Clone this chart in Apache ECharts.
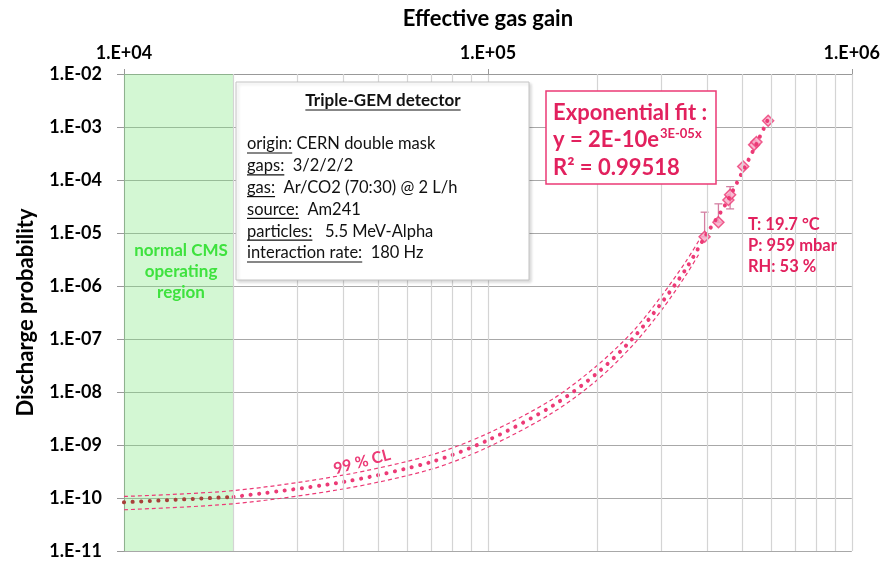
<!DOCTYPE html>
<html>
<head>
<meta charset="utf-8">
<script src="https://cdn.jsdelivr.net/npm/echarts@6/dist/echarts.min.js"></script>
<style>
html, body { margin: 0; padding: 0; background: #fff; }
#graph { width: 883px; height: 564px; }
</style>
</head>
<body>
<div id="graph"></div>
<script>
// gain at the minor vertical grid lines
var minorGain = [2e4, 3e4, 4e4, 5e4, 6e4, 7e4, 8e4, 9e4,
                 2e5, 3e5, 4e5, 5e5, 6e5, 7e5, 8e5, 9e5];
var cmsRegion = [1e4, 2e4];

// measured points
var pointGain = [3.94e5, 4.30e5, 4.58e5, 4.63e5, 5.03e5, 5.39e5, 5.47e5, 5.89e5];
var pointProb = [8.5e-6, 1.6e-5, 4.2e-5, 5.25e-5, 1.8e-4, 4.6e-4, 5.2e-4, 1.31e-3];

// error bars
var errGain = [3.94e5, 4.30e5, 4.63e5];
var errLow  = [8.5e-6, 1.6e-5, 2.85e-5];
var errHigh = [2.47e-5, 3.55e-5, 7.5e-5];

// exponential fit
var fitGain = [1e4, 2e4, 4e4, 7e4, 1e5, 1.5e5, 2e5, 2.5e5, 3e5, 3.5e5, 4e5, 4.5e5, 5e5, 5.5e5, 5.9e5];
var fitProb = [8.3e-11, 1.05e-10, 2.0e-10, 4.8e-10, 1.23e-9, 5.4e-9, 2.3e-8, 1.02e-7, 4.8e-7,
               2.1e-6, 9.8e-6, 3.5e-5, 1.4e-4, 5.2e-4, 1.45e-3];

// 99 % confidence band
var clGain  = [1e4, 2e4, 4e4, 7e4, 1e5, 1.5e5, 2e5, 2.5e5, 3e5, 3.5e5, 3.8e5];
var clUpper = [1.07e-10, 1.38e-10, 2.7e-10, 6.5e-10, 1.66e-9, 7.2e-9, 3.2e-8, 1.38e-7, 6.5e-7, 2.9e-6, 7.2e-6];
var clLower = [6.0e-11, 7.8e-11, 1.48e-10, 3.5e-10, 9.1e-10, 4.0e-9, 1.7e-8, 7.6e-8, 3.5e-7, 1.6e-6, 4.0e-6];

var infoLabels = ['origin:', 'gaps:', 'gas:', 'source:', 'particles:', 'interaction rate:'];
var infoValues = [' CERN double mask', '  3/2/2/2', '  Ar/CO2 (70:30) @ 2 L/h', '  Am241', '   5.5 MeV-Alpha', '  180 Hz'];
var condLines = ['T: 19.7 °C', 'P: 959 mbar', 'RH: 53 %'];

function zip(a, b) { return a.map(function (v, i) { return [v, b[i]]; }); }

var pink = '#ec3a76';
var red = '#e2215e';
var FONT = 'Lato, "Open Sans", sans-serif';

var measure = document.createElement('canvas').getContext('2d');
function textWidth(str, font) { measure.font = font; return measure.measureText(str).width; }

var chart = echarts.init(document.getElementById('graph'), null, { renderer: 'canvas' });

// info box
var headFont = 'bold 17px ' + FONT;
var headW = textWidth('Triple-GEM detector', headFont);
var graphics = [
    { type: 'rect', shape: { x: 236, y: 82, width: 293, height: 198 }, z: 50,
      style: { fill: '#fff', stroke: '#c4c4c4', lineWidth: 1, shadowColor: 'rgba(0,0,0,0.15)', shadowBlur: 3, shadowOffsetX: 2, shadowOffsetY: 2 } },
    { type: 'text', x: 383, y: 101, z: 51,
      style: { text: 'Triple-GEM detector', font: headFont, fill: '#111', align: 'center', verticalAlign: 'middle' } },
    { type: 'line', z: 51, shape: { x1: 383 - headW / 2, y1: 110, x2: 383 + headW / 2, y2: 110 },
      style: { stroke: '#111', lineWidth: 1.2 } }
];
var infoFont = '16.5px ' + FONT;
infoLabels.forEach(function (lab, i) {
    var y = 144 + i * 21.8;
    graphics.push({ type: 'text', x: 247, y: y, z: 51,
        style: { text: lab + infoValues[i], font: infoFont, fill: '#111', verticalAlign: 'middle' } });
    graphics.push({ type: 'line', z: 51, shape: { x1: 247, y1: y + 9, x2: 247 + textWidth(lab, infoFont), y2: y + 9 },
        style: { stroke: '#111', lineWidth: 1.2 } });
});
// fit box
var fitFont = 'bold 22px ' + FONT;
graphics.push({ type: 'rect', shape: { x: 546, y: 91, width: 170, height: 93 }, z: 50,
    style: { fill: '#fff', stroke: pink, lineWidth: 1.5 } });
graphics.push({ type: 'text', x: 553, y: 113, z: 51,
    style: { text: 'Exponential fit :', font: fitFont, fill: red, verticalAlign: 'middle' } });
graphics.push({ type: 'text', x: 553, y: 140, z: 51,
    style: { text: 'y = 2E-10e', font: fitFont, fill: red, verticalAlign: 'middle' } });
graphics.push({ type: 'text', x: 554 + textWidth('y = 2E-10e', fitFont), y: 134, z: 51,
    style: { text: '3E-05x', font: 'bold 13px ' + FONT, fill: red, verticalAlign: 'middle' } });
graphics.push({ type: 'text', x: 553, y: 168, z: 51,
    style: { text: 'R² = 0.99518', font: fitFont, fill: red, verticalAlign: 'middle' } });
// conditions
condLines.forEach(function (t, i) {
    graphics.push({ type: 'text', x: 748, y: 225 + i * 21, z: 51,
        style: { text: t, font: 'bold 16.5px ' + FONT, fill: red, verticalAlign: 'middle' } });
});
// band label
graphics.push({ type: 'text', x: 362, y: 462, rotation: 0.26, z: 51,
    style: { text: '99 % CL', font: 'bold 16px ' + FONT, fill: pink, align: 'center', verticalAlign: 'middle' } });
// CMS region label
graphics.push({ type: 'text', x: 181, y: 272, z: 51,
    style: { text: 'normal CMS\noperating\nregion', font: 'bold 17px ' + FONT, fill: '#3ee23e', align: 'center', verticalAlign: 'middle', lineHeight: 21 } });

chart.setOption({
    animation: false,
    grid: { left: 124, right: 31, top: 74, bottom: 13 },
    xAxis: {
        type: 'log', logBase: 10, min: 1e4, max: 1e6, splitNumber: 2, position: 'top',
        name: 'Effective gas gain', nameLocation: 'middle', nameGap: 44,
        nameTextStyle: { fontFamily: 'Lato', fontWeight: 'bold', fontSize: 22, color: '#000' },
        axisLine: { lineStyle: { color: '#999' } },
        axisTick: { length: 5, lineStyle: { color: '#999' } },
        axisLabel: { margin: 12, fontFamily: 'Lato', fontWeight: 'bold', fontSize: 18, color: '#000',
                     formatter: function (v) { var e = Math.round(Math.log10(v)); return '1.E+' + (e < 10 ? '0' : '') + e; } },
        splitLine: { show: true, lineStyle: { color: '#d4d4d4', width: 1.2 } }
    },
    yAxis: {
        type: 'log', logBase: 10, min: 1e-11, max: 1e-2, splitNumber: 9,
        name: 'Discharge probability', nameLocation: 'middle', nameGap: 87,
        nameTextStyle: { fontFamily: 'Lato', fontWeight: 'bold', fontSize: 22, color: '#000' },
        axisLine: { show: true, lineStyle: { color: '#999' } },
        axisTick: { show: true, length: 7, lineStyle: { color: '#999' } },
        axisLabel: { margin: 22, fontFamily: 'Lato', fontWeight: 'bold', fontSize: 18, color: '#000',
                     formatter: function (v) { var e = Math.round(Math.log10(v)); var a = Math.abs(e);
                         return '1.E' + (e < 0 ? '-' : '+') + (a < 10 ? '0' : '') + a; } },
        splitLine: { show: true, lineStyle: { color: '#a8a8a8', width: 1.2 } }
    },
    graphic: graphics,
    series: [
        {
            name: 'CL low', type: 'line', data: zip(clGain, clLower), smooth: 0.3, showSymbol: false, silent: true,
            lineStyle: { color: pink, width: 1.2, type: [4, 3] },
            markArea: { silent: true, itemStyle: { color: 'rgba(120,230,120,0.33)' },
                        data: [[{ xAxis: cmsRegion[0] }, { xAxis: cmsRegion[1] }]] },
            markLine: { silent: true, symbol: 'none', label: { show: false },
                        lineStyle: { color: '#d4d4d4', width: 1.2, type: 'solid' },
                        data: minorGain.map(function (g) { return { xAxis: g }; }) }
        },
        {
            name: 'CL high', type: 'line', data: zip(clGain, clUpper), smooth: 0.3, showSymbol: false, silent: true,
            lineStyle: { color: pink, width: 1.2, type: [4, 3] }
        },
        {
            name: 'fit', type: 'line', data: zip(fitGain.slice(1), fitProb.slice(1)), smooth: 0.3, showSymbol: false, silent: true,
            lineStyle: { color: pink, width: 4, type: [0.1, 8.5], cap: 'round' }
        },
        {
            name: 'fit in band', type: 'line', data: zip(fitGain.slice(0, 2), fitProb.slice(0, 2)), showSymbol: false, silent: true,
            lineStyle: { color: '#a8403a', width: 4, type: [0.1, 8.5], cap: 'round' }
        },
        {
            name: 'errors', type: 'custom', silent: true,
            data: errGain.map(function (g, i) { return [g, errLow[i], errHigh[i]]; }),
            renderItem: function (params, api) {
                var lo = api.coord([api.value(0), api.value(1)]);
                var hi = api.coord([api.value(0), api.value(2)]);
                var st = { stroke: '#d47fa2', lineWidth: 1.3 };
                return { type: 'group', children: [
                    { type: 'line', shape: { x1: lo[0], y1: lo[1], x2: hi[0], y2: hi[1] }, style: st },
                    { type: 'line', shape: { x1: hi[0] - 4, y1: hi[1], x2: hi[0] + 4, y2: hi[1] }, style: st },
                    { type: 'line', shape: { x1: lo[0] - 4, y1: lo[1], x2: lo[0] + 4, y2: lo[1] }, style: st }
                ] };
            }
        },
        {
            name: 'data', type: 'scatter', data: zip(pointGain, pointProb), symbol: 'diamond', symbolSize: 11,
            itemStyle: { color: '#f7a9c6', borderColor: pink, borderWidth: 1.5 }
        }
    ]
});
</script>
</body>
</html>
